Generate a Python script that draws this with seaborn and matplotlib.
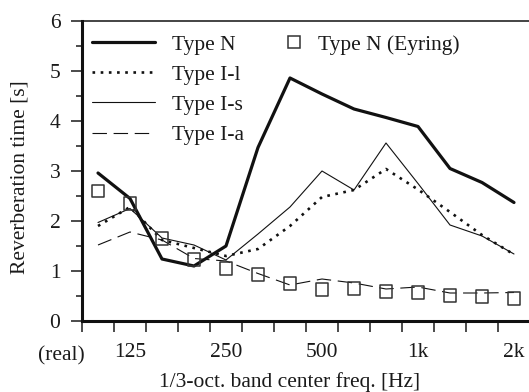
import numpy as np
import pandas as pd
import matplotlib
matplotlib.use("Agg")
import matplotlib.pyplot as plt
import seaborn as sns
from matplotlib.lines import Line2D
from matplotlib.ticker import MultipleLocator, FixedLocator

# ---- data -------------------------------------------------------------
bands = ["(real)", "125", "160", "200", "250", "315", "400", "500",
         "630", "800", "1k", "1.25k", "1.6k", "2k"]
shown_labels = ["125", "250", "500", "1k", "2k"]

type_n = [2.96, 2.45, 1.24, 1.10, 1.50, 3.47, 4.86, 4.54, 4.24, 4.07, 3.89, 3.05, 2.77, 2.37]
type_il = [1.90, 2.28, 1.62, 1.46, 1.30, 1.44, 1.90, 2.48, 2.62, 3.04, 2.63, 2.18, 1.72, 1.33]
type_is = [1.97, 2.25, 1.66, 1.52, 1.22, 1.74, 2.28, 3.00, 2.62, 3.56, 2.75, 1.92, 1.70, 1.34]
type_ia = [1.52, 1.78, 1.62, 1.25, 1.20, 0.95, 0.72, 0.84, 0.76, 0.64, 0.68, 0.56, 0.56, 0.57]
eyring = [2.60, 2.35, 1.65, 1.23, 1.05, 0.93, 0.75, 0.63, 0.65, 0.59, 0.57, 0.51, 0.49, 0.45]

# ---- style ------------------------------------------------------------
FS = 15.5
sns.set_style("ticks")
plt.rcParams["font.family"] = ["Liberation Serif", "DejaVu Serif"]
plt.rcParams["font.size"] = FS
plt.rcParams["text.color"] = "#1a1a1a"
plt.rcParams["axes.labelcolor"] = "#1a1a1a"
plt.rcParams["xtick.color"] = "#1a1a1a"
plt.rcParams["ytick.color"] = "#1a1a1a"

W, H = 529, 392
fig = plt.figure(figsize=(W / 100, H / 100), dpi=100)
ax = fig.add_axes([82 / W, 1 - 321 / H, 448 / W, 300 / H])

pos = np.arange(len(bands))
df = pd.DataFrame({"pos": pos, "N": type_n, "Il": type_il, "Is": type_is,
                   "Ia": type_ia, "Ey": eyring})

ink = "#111111"
sns.lineplot(data=df, x="pos", y="N", ax=ax, color=ink, lw=2.3)
sns.lineplot(data=df, x="pos", y="Il", ax=ax, color=ink, lw=1.9,
             linestyle=(0, (1, 2.1)))
sns.lineplot(data=df, x="pos", y="Is", ax=ax, color=ink, lw=0.8)
sns.lineplot(data=df, x="pos", y="Ia", ax=ax, color=ink, lw=0.8,
             linestyle=(0, (13, 6)))
sns.scatterplot(data=df, x="pos", y="Ey", ax=ax, marker="s", s=80,
                facecolor="none", edgecolor="#333333", linewidth=1.1, zorder=5)

# ---- axes ---------------------------------------------------------------
ax.set_xlim(-0.5, 13.5)
ax.set_ylim(0, 6)
for side in ["left", "bottom"]:
    ax.spines[side].set_linewidth(2.2)
    ax.spines[side].set_color(ink)
ax.spines["top"].set_visible(True)
ax.spines["top"].set_linewidth(1.1)
ax.spines["top"].set_color(ink)
ax.spines["right"].set_visible(False)

ax.yaxis.set_major_locator(MultipleLocator(1))
ax.yaxis.set_minor_locator(MultipleLocator(0.5))
ax.tick_params(axis="y", which="major", length=8, width=1.1, pad=7.5,
               direction="out", labelsize=FS)
ax.tick_params(axis="y", which="minor", length=4, width=1.1, direction="out")

label_pos = [bands.index(b) for b in shown_labels]
ax.set_xticks(label_pos)
ax.set_xticklabels(shown_labels)
ax.xaxis.set_minor_locator(FixedLocator(np.arange(-0.5, 13.6, 1.0)))
ax.tick_params(axis="x", which="major", length=0, pad=16, labelsize=FS)
ax.tick_params(axis="x", which="minor", length=8, width=1.1, direction="out")
ax.text(-1.13, -0.116, bands[0], transform=ax.get_xaxis_transform(),
        ha="center", va="center", fontsize=FS, clip_on=False)

ax.set_xlabel("1/3-oct. band center freq. [Hz]", fontsize=FS)
ax.set_ylabel("Reverberation time [s]", fontsize=FS)
ax.xaxis.set_label_coords(0.464, -0.17)
ax.yaxis.set_label_coords(-0.118, 0.478)

# ---- legends -----------------------------------------------------------
h_lines = [
    Line2D([], [], color=ink, lw=2.3),
    Line2D([], [], color=ink, lw=1.9, linestyle=(0, (1, 2.1))),
    Line2D([], [], color=ink, lw=0.8),
    Line2D([], [], color=ink, lw=0.8, linestyle=(0, (13, 6))),
]
leg1 = ax.legend(h_lines, ["Type N", "Type I-l", "Type I-s", "Type I-a"],
                 loc="upper left", bbox_to_anchor=(0.022, 0.955), frameon=False,
                 borderpad=0, borderaxespad=0, handlelength=2.93,
                 handletextpad=0.79, labelspacing=0.47, fontsize=FS)
ax.add_artist(leg1)
h_sq = [Line2D([], [], ls="none", marker="s", markersize=9,
               markerfacecolor="none", markeredgecolor="#333333",
               markeredgewidth=1.1)]
ax.legend(h_sq, ["Type N (Eyring)"], loc="upper left",
          bbox_to_anchor=(0.449, 0.955), frameon=False, borderpad=0,
          borderaxespad=0, handlelength=1.0, handletextpad=0.63, fontsize=FS)

fig.savefig("out.png", dpi=100)
